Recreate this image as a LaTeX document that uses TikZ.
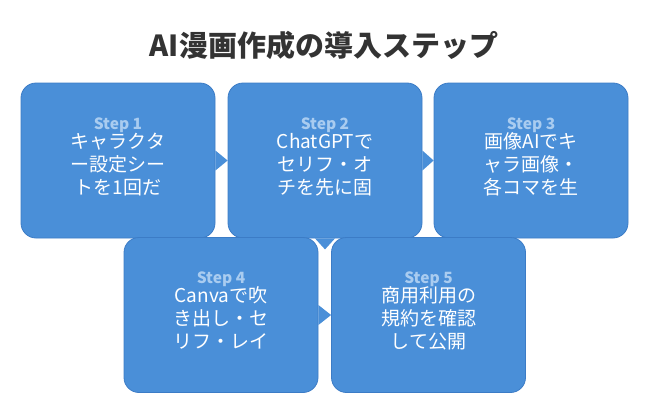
\documentclass[tikz,border=0pt]{standalone}
\usepackage{fontspec}
\setmainfont{Noto Sans CJK JP}
\usetikzlibrary{positioning}
\definecolor{stepblue}{HTML}{4A8FD8}
\definecolor{stepedge}{HTML}{3C7CC6}
\definecolor{steplabel}{HTML}{A9CCF0}
\definecolor{titlegray}{HTML}{333333}
\newcommand{\steplbl}[1]{{\fontsize{15.5}{18}\selectfont\bfseries\color{steplabel}#1}\\[-4pt]}

\begin{document}
\begin{tikzpicture}[x=1pt, y=-1pt,
  title/.style={font=\fontsize{29}{34}\selectfont\bfseries, text=titlegray},
  card/.style={draw=stepedge, line width=0.8pt, fill=stepblue, rounded corners=15pt,
               minimum width=194pt, minimum height=155pt, inner sep=0pt},
  cardtxt/.style={align=center, text=white, font=\fontsize{19}{23}\selectfont},
  tri/.style={fill=stepblue}
]
\useasboundingbox (0,0) rectangle (650,415);
\node[title] (title) at (324,45) {AI漫画作成の導入ステップ};

\node[card] (c1) at (118,160.5) {};
\node[card] (c2) at (325,160.5) {};
\node[card] (c3) at (531,160.5) {};
\fill[tri] ([yshift=10pt]c1.east) -- (c2.west) -- ([yshift=-10pt]c1.east) -- cycle;
\fill[tri] ([yshift=10pt]c2.east) -- (c3.west) -- ([yshift=-10pt]c2.east) -- cycle;
\fill[tri] ([xshift=-10pt]c2.south) -- ([yshift=-11pt]c2.south) -- ([xshift=10pt]c2.south) -- cycle;

\node[card] (c4) at (221,315) {};
\node[card] (c5) at (428.5,315) {};
\fill[tri] ([yshift=10pt]c4.east) -- (c5.west) -- ([yshift=-10pt]c4.east) -- cycle;

\node[cardtxt] (t1) at ([yshift=4pt]c1.center) {\steplbl{Step 1}キャラクタ\\ー設定シー\\トを1回だ};
\node[cardtxt] (t2) at ([yshift=4pt]c2.center) {\steplbl{Step 2}ChatGPTで\\セリフ・オ\\チを先に固};
\node[cardtxt] (t3) at ([yshift=4pt]c3.center) {\steplbl{Step 3}画像AIでキ\\ャラ画像・\\各コマを生};
\node[cardtxt] (t4) at ([yshift=4pt]c4.center) {\steplbl{Step 4}Canvaで吹\\き出し・セ\\リフ・レイ};
\node[cardtxt] (t5) at ([yshift=4pt]c5.center) {\steplbl{Step 5}商用利用の\\規約を確認\\して公開};
\end{tikzpicture}
\end{document}
